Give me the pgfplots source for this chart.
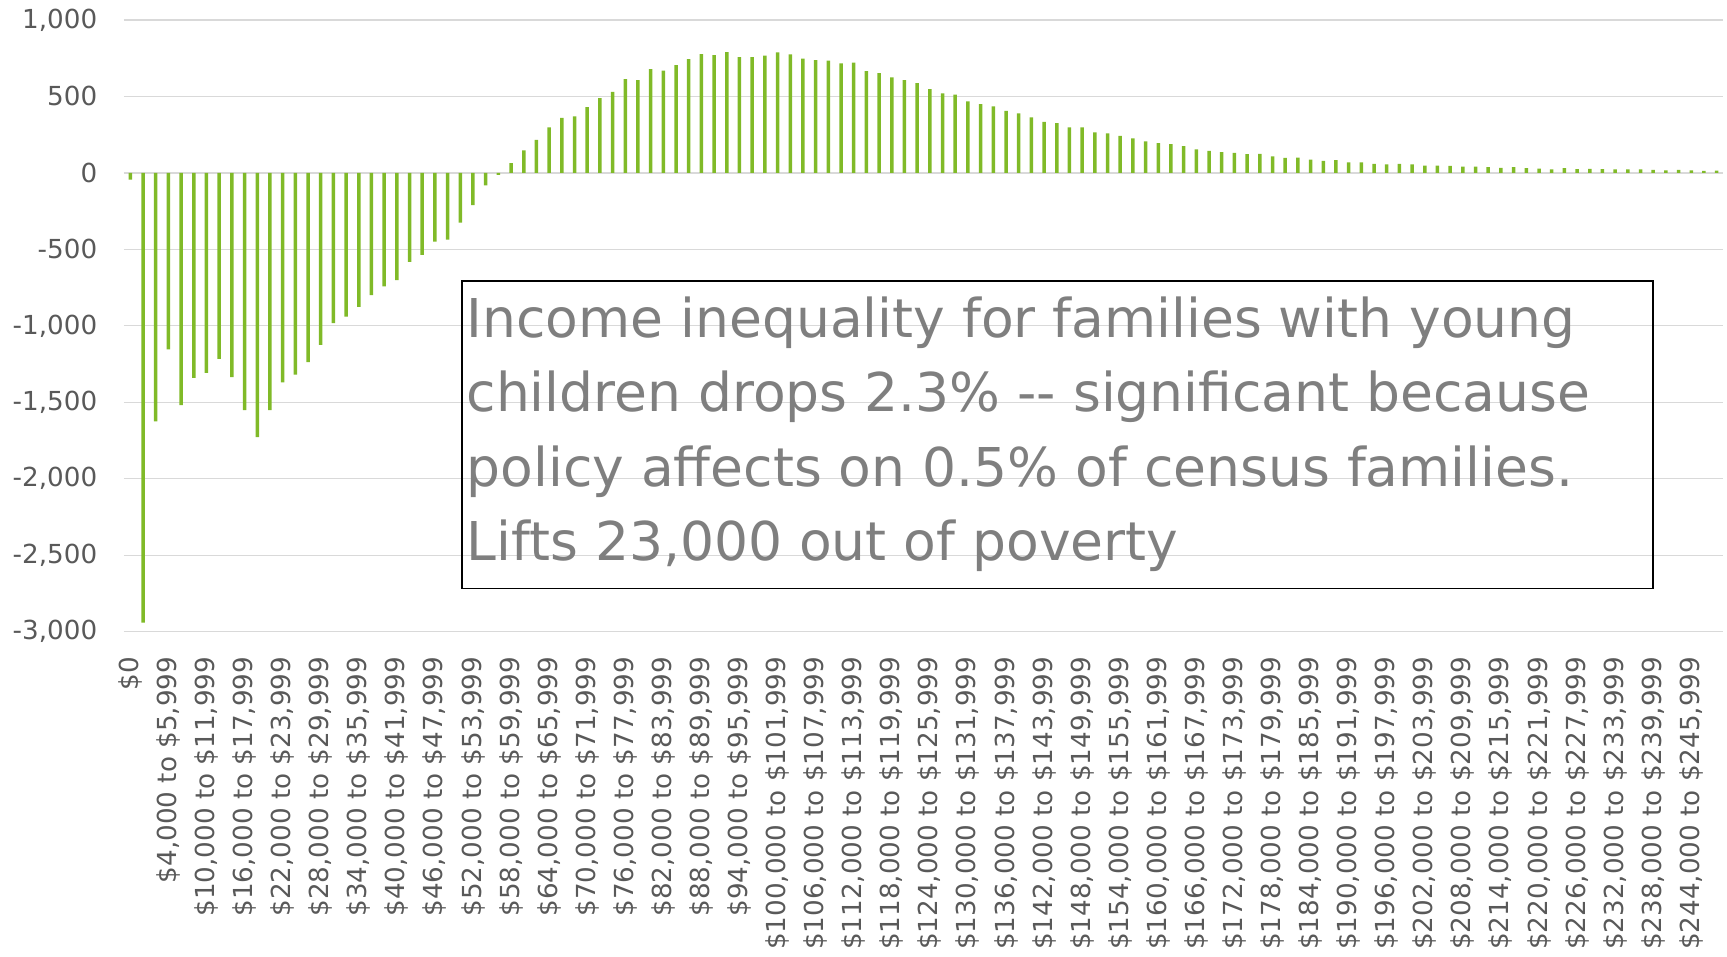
\documentclass[border=0pt]{standalone}
\usepackage{fontspec}
\setmainfont{DejaVu Sans}
\usepackage{pgfplots}
\pgfplotsset{compat=1.18}
\usepackage{pgfplotstable}
\definecolor{barg}{HTML}{80BA28}
\definecolor{gridc}{HTML}{D9D9D9}
\definecolor{tickc}{HTML}{595959}
\definecolor{boxtext}{HTML}{7F7F7F}

\pgfplotstableread{
k v
0 -45
1 -2940
2 -1625
3 -1154
4 -1519
5 -1340
6 -1308
7 -1216
8 -1335
9 -1552
10 -1728
11 -1552
12 -1370
13 -1319
14 -1238
15 -1124
16 -983
17 -940
18 -877
19 -799
20 -742
21 -701
22 -582
23 -536
24 -450
25 -436
26 -325
27 -211
28 -82
29 -14
30 64
31 147
32 215
33 298
34 359
35 370
36 429
37 488
38 530
39 612
40 606
41 678
42 669
43 704
44 743
45 776
46 769
47 789
48 756
49 756
50 767
51 787
52 774
53 747
54 737
55 734
56 715
57 721
58 665
59 652
60 625
61 606
62 586
63 547
64 519
65 512
66 468
67 449
68 434
69 406
70 389
71 363
72 334
73 325
74 297
75 297
76 264
77 258
78 242
79 225
80 205
81 194
82 188
83 175
84 153
85 144
86 135
87 131
88 122
89 124
90 107
91 98
92 100
93 87
94 79
95 83
96 68
97 68
98 59
99 55
100 59
101 55
102 48
103 48
104 46
105 41
106 41
107 37
108 33
109 37
110 31
111 28
112 22
113 31
114 24
115 26
116 24
117 22
118 22
119 22
120 20
121 17
122 20
123 17
124 13
125 15
}\datatable

\begin{document}
\begin{tikzpicture}
\begin{axis}[
  scale only axis,
  width=799.5pt, height=305.9pt,
  xmin=-0.5, xmax=125.5,
  ymin=-3000, ymax=1000,
  axis line style={draw=none},
  tick style={draw=none},
  major tick length=0pt,
  ymajorgrids,
  grid style={color=gridc, line width=0.65pt},
  ytick={-3000,-2500,-2000,-1500,-1000,-500,0,500,1000},
  yticklabels={{-3,000},{-2,500},{-2,000},{-1,500},{-1,000},{-500},{0},{500},{1,000}},
  yticklabel style={anchor=east, inner sep=0pt, text=tickc, font=\fontsize{13.1}{15.7}\selectfont},
  yticklabel shift=13.2pt,
  xtick={0,3,...,123},
  xticklabels={{\$0\hspace{5.3pt}},{\$4,000 to \$5,999},{\$10,000 to \$11,999},{\$16,000 to \$17,999},{\$22,000 to \$23,999},{\$28,000 to \$29,999},{\$34,000 to \$35,999},{\$40,000 to \$41,999},{\$46,000 to \$47,999},{\$52,000 to \$53,999},{\$58,000 to \$59,999},{\$64,000 to \$65,999},{\$70,000 to \$71,999},{\$76,000 to \$77,999},{\$82,000 to \$83,999},{\$88,000 to \$89,999},{\$94,000 to \$95,999},{\$100,000 to \$101,999},{\$106,000 to \$107,999},{\$112,000 to \$113,999},{\$118,000 to \$119,999},{\$124,000 to \$125,999},{\$130,000 to \$131,999},{\$136,000 to \$137,999},{\$142,000 to \$143,999},{\$148,000 to \$149,999},{\$154,000 to \$155,999},{\$160,000 to \$161,999},{\$166,000 to \$167,999},{\$172,000 to \$173,999},{\$178,000 to \$179,999},{\$184,000 to \$185,999},{\$190,000 to \$191,999},{\$196,000 to \$197,999},{\$202,000 to \$203,999},{\$208,000 to \$209,999},{\$214,000 to \$215,999},{\$220,000 to \$221,999},{\$226,000 to \$227,999},{\$232,000 to \$233,999},{\$238,000 to \$239,999},{\$244,000 to \$245,999}},
  xticklabel style={rotate=90, anchor=east, inner sep=0pt, text=tickc, font=\fontsize{13.1}{15.7}\selectfont},
  xticklabel shift=12.4pt,
]
\addplot[ybar, bar width=1.75pt, fill=barg, draw=none] table[x=k, y=v] {\datatable};
\draw[black, line width=0.75pt] (axis cs:26.15,-707) rectangle (axis cs:120.0,-2718);
\begin{scope}[every node/.style={anchor=base west, inner sep=0pt, text=boxtext, font=\fontsize{26.75}{32}\selectfont}]
\node[xshift=2pt, yshift=-28.3pt] at (axis cs:26.15,-707) {Income inequality for families with young};
\node[xshift=2pt, yshift=-65.5pt] at (axis cs:26.15,-707) {children drops 2.3\% -{}- significant because};
\node[xshift=2pt, yshift=-102.7pt] at (axis cs:26.15,-707) {policy affects on 0.5\% of census families.};
\node[xshift=2pt, yshift=-139.9pt] at (axis cs:26.15,-707) {Lifts 23,000 out of poverty};
\end{scope}
\end{axis}
\pgfresetboundingbox
\path[use as bounding box] (-62pt,-162.65pt) rectangle (801.5pt,315.85pt);
\end{tikzpicture}
\end{document}
